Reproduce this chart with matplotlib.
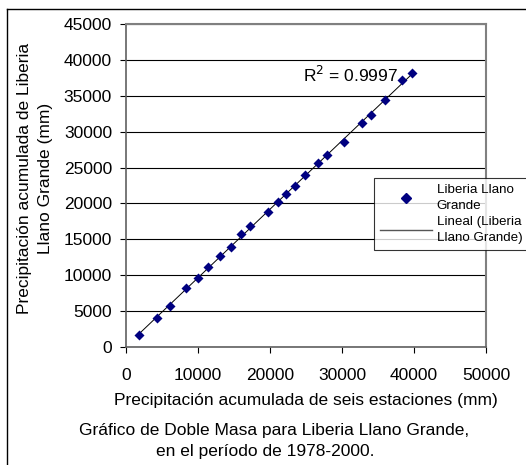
import numpy as np
import matplotlib
matplotlib.use("Agg")
import matplotlib.pyplot as plt
from matplotlib.lines import Line2D

plt.rcParams['font.family'] = ['Liberation Sans', 'DejaVu Sans']

# precipitación acumulada (mm), 1978-2000
seis_estaciones = [1806, 4259, 6065, 8380, 9954, 11389, 13056, 14583, 16019, 17269,
                   19676, 21065, 22269, 23472, 24907, 26713, 27917, 30324, 32778,
                   34074, 36019, 38380, 39676]
liberia = [1671, 4081, 5710, 8170, 9655, 11185, 12630, 13927, 15738, 16852,
           18802, 20150, 21309, 22423, 23955, 25669, 26783, 28594, 31198,
           32312, 34401, 37187, 38162]

x_ticks = [0, 10000, 20000, 30000, 40000, 50000]
y_ticks = list(range(0, 45001, 5000))
r2_texto = 'R$^2$ = 0.9997'

x = np.array(seis_estaciones)
y = np.array(liberia)
m, b = np.polyfit(x, y, 1)

fs = 12.5

fig = plt.figure(figsize=(5.26, 4.65), dpi=100)
ax = fig.add_axes([0.2395, 0.2538, 0.6845, 0.6946])

ax.set_xlim(0, 50000)
ax.set_ylim(0, 45000)
ax.set_xticks(x_ticks)
ax.set_yticks(y_ticks)
ax.yaxis.grid(True, color='black', linewidth=0.8)
ax.set_axisbelow(True)

xl = np.array([x.min(), x.max()])
ax.plot(xl, m * xl + b, color='black', linewidth=0.7, zorder=3)
ax.scatter(x, y, marker='D', s=26, color='#000080', zorder=4, linewidths=0)

for s in ['top', 'right']:
    ax.spines[s].set_color('#808080')
    ax.spines[s].set_linewidth(1.5)
for s in ['left', 'bottom']:
    ax.spines[s].set_color('#606060')
    ax.spines[s].set_linewidth(1.2)

ax.tick_params(direction='out', length=4, width=0.8, colors='black', labelsize=fs)
ax.tick_params(axis='y', pad=6)
ax.tick_params(axis='x', pad=11)

ax.set_xlabel('Precipitación acumulada de seis estaciones (mm)', fontsize=fs)
ax.xaxis.set_label_coords(0.5, -(393 - 347) / 323)
ax.set_ylabel('Precipitación acumulada de Liberia\nLlano Grande (mm)', fontsize=fs,
              linespacing=1.5)
ax.yaxis.set_label_coords((53 - 126) / 360, (347 - 178) / 323)

ax.text((303 - 126) / 360, (347 - 75) / 323, r2_texto, transform=ax.transAxes,
        fontsize=fs, ha='left', va='center')

handles = [Line2D([], [], marker='D', color='#000080', linestyle='none', markersize=5.5),
           Line2D([], [], color='#555555', linewidth=1)]
leg = fig.legend(handles, ['Liberia Llano\nGrande', 'Lineal (Liberia\nLlano Grande)'],
                 loc='upper left', bbox_to_anchor=(374 / 526, 1 - 178 / 465),
                 fontsize=9.6, frameon=True, fancybox=False, borderpad=0.45,
                 handlelength=3.9, handletextpad=0.35, labelspacing=0.35,
                 borderaxespad=0)
for t in leg.get_texts():
    t.set_linespacing(1.4)
leg.get_frame().set_edgecolor('black')
leg.get_frame().set_linewidth(0.8)

fig.text(274 / 526, 1 - 430 / 465, 'Gráfico de Doble Masa para Liberia Llano Grande,',
         ha='center', va='center', fontsize=fs)
fig.text(265 / 526, 1 - 451 / 465, 'en el período de 1978-2000.',
         ha='center', va='center', fontsize=fs)

# borde del gráfico
fig.add_artist(Line2D([7 / 526, 7 / 526], [0, 1 - 9 / 465], transform=fig.transFigure,
                      color='black', linewidth=1))
fig.add_artist(Line2D([7 / 526, 1], [1 - 9 / 465, 1 - 9 / 465], transform=fig.transFigure,
                      color='black', linewidth=1))

fig.savefig('out.png', dpi=100)
